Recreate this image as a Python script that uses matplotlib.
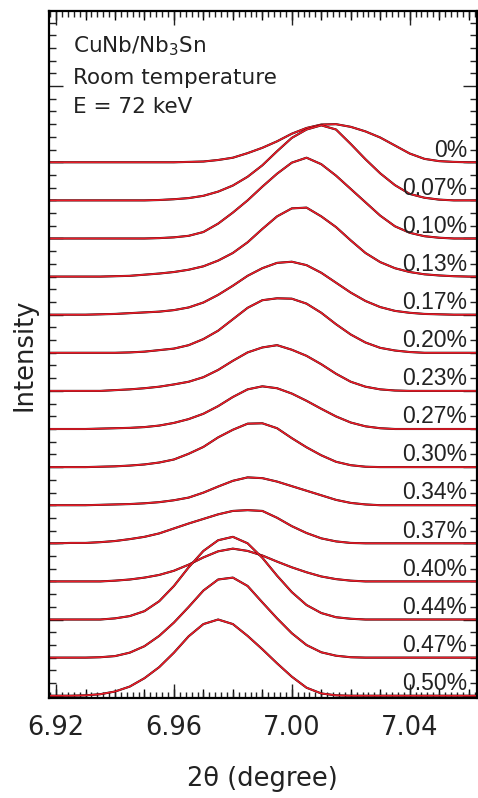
import matplotlib
matplotlib.use("Agg")
import matplotlib.pyplot as plt
from matplotlib.ticker import MultipleLocator, FixedLocator, FormatStrFormatter

# 2theta sampling (degree)
two_theta = [6.915, 6.920, 6.925, 6.930, 6.935, 6.940, 6.945, 6.950, 6.955, 6.960,
             6.965, 6.970, 6.975, 6.980, 6.985, 6.990, 6.995, 7.000, 7.005, 7.010,
             7.015, 7.020, 7.025, 7.030, 7.035, 7.040, 7.045, 7.050, 7.055, 7.060,
             7.065]

strain_labels = ['0%', '0.07%', '0.10%', '0.13%', '0.17%', '0.20%', '0.23%', '0.27%',
                 '0.30%', '0.34%', '0.37%', '0.40%', '0.44%', '0.47%', '0.50%']

# normalised intensity of each profile
i_000 = [0, 0, 0, 0, 0, 0, 0, 0, 0, 0, 0.01, 0.02, 0.06, 0.12, 0.24, 0.38, 0.55, 0.75,
         0.90, 0.99, 1.00, 0.93, 0.81, 0.65, 0.44, 0.23, 0.09, 0.03, 0.01, 0, 0]
i_007 = [0, 0, 0, 0, 0, 0, 0, 0, 0.01, 0.03, 0.06, 0.12, 0.23, 0.39, 0.62, 0.92, 1.29,
         1.64, 1.86, 1.97, 1.86, 1.48, 1.08, 0.71, 0.40, 0.17, 0.07, 0.02, 0, 0, 0]
i_010 = [0, 0, 0, 0, 0, 0, 0, 0, 0.01, 0.03, 0.07, 0.17, 0.39, 0.68, 1.00, 1.36, 1.70,
         1.99, 2.12, 1.95, 1.65, 1.30, 0.95, 0.60, 0.32, 0.15, 0.06, 0.02, 0, 0, 0]
i_013 = [0, 0, 0, 0, 0, 0.01, 0.02, 0.05, 0.08, 0.12, 0.18, 0.27, 0.42, 0.62, 0.90, 1.25,
         1.58, 1.79, 1.81, 1.58, 1.30, 0.95, 0.62, 0.38, 0.22, 0.12, 0.06, 0.03, 0.01, 0, 0]
i_017 = [0, 0, 0, 0, 0.01, 0.02, 0.04, 0.06, 0.08, 0.12, 0.19, 0.32, 0.52, 0.76, 1.02, 1.22,
         1.36, 1.39, 1.30, 1.10, 0.84, 0.58, 0.36, 0.20, 0.10, 0.05, 0.02, 0.01, 0, 0, 0]
i_020 = [0, 0, 0, 0, 0, 0, 0.01, 0.03, 0.07, 0.11, 0.20, 0.36, 0.58, 0.88, 1.18, 1.38,
         1.43, 1.42, 1.29, 1.05, 0.75, 0.48, 0.27, 0.13, 0.06, 0.02, 0, 0, 0, 0, 0]
i_023 = [0, 0, 0, 0, 0, 0.02, 0.04, 0.07, 0.11, 0.17, 0.24, 0.36, 0.55, 0.79, 1.01, 1.14,
         1.20, 1.08, 0.92, 0.70, 0.45, 0.24, 0.11, 0.04, 0.01, 0, 0, 0, 0, 0, 0]
i_027 = [0, 0, 0, 0, 0.01, 0.02, 0.03, 0.05, 0.09, 0.16, 0.26, 0.40, 0.60, 0.84, 1.04, 1.12,
         1.07, 0.93, 0.74, 0.53, 0.33, 0.17, 0.07, 0.02, 0, 0, 0, 0, 0, 0, 0]
i_030 = [0, 0, 0, 0, 0.01, 0.02, 0.04, 0.07, 0.12, 0.20, 0.35, 0.53, 0.78, 0.98, 1.14, 1.15,
         1.02, 0.76, 0.52, 0.31, 0.14, 0.05, 0.01, 0, 0, 0, 0, 0, 0, 0, 0]
i_034 = [0, 0, 0, 0, 0.01, 0.02, 0.03, 0.05, 0.08, 0.13, 0.20, 0.33, 0.49, 0.64, 0.73, 0.71,
         0.62, 0.50, 0.38, 0.26, 0.14, 0.06, 0.02, 0, 0, 0, 0, 0, 0, 0, 0]
i_037 = [0, 0, 0.01, 0.01, 0.03, 0.06, 0.11, 0.17, 0.26, 0.39, 0.52, 0.64, 0.76, 0.85, 0.87,
         0.85, 0.67, 0.45, 0.27, 0.13, 0.05, 0.01, 0, 0, 0, 0, 0, 0, 0, 0, 0]
i_040 = [0, 0, 0, 0, 0, 0.02, 0.05, 0.10, 0.17, 0.28, 0.44, 0.63, 0.79, 0.86, 0.80, 0.68,
         0.52, 0.37, 0.24, 0.13, 0.06, 0.02, 0, 0, 0, 0, 0, 0, 0, 0, 0]
i_044 = [0, 0, 0, 0, 0, 0.03, 0.09, 0.22, 0.48, 0.88, 1.37, 1.80, 2.08, 2.17, 2.00, 1.62,
         1.15, 0.72, 0.38, 0.17, 0.06, 0.02, 0, 0, 0, 0, 0, 0, 0, 0, 0]
i_047 = [0, 0, 0, 0, 0.01, 0.04, 0.13, 0.30, 0.57, 0.92, 1.33, 1.76, 2.05, 2.10, 1.88, 1.45,
         1.03, 0.64, 0.33, 0.14, 0.05, 0.01, 0, 0, 0, 0, 0, 0, 0, 0, 0]
i_050 = [0, 0, 0, 0.01, 0.04, 0.11, 0.24, 0.46, 0.75, 1.13, 1.56, 1.88, 2.00, 1.88, 1.57,
         1.22, 0.85, 0.50, 0.21, 0.06, 0.01, 0, 0, 0, 0, 0, 0, 0, 0, 0, 0]

profiles = [i_000, i_007, i_010, i_013, i_017, i_020, i_023, i_027, i_030, i_034,
            i_037, i_040, i_044, i_047, i_050]

fig = plt.figure(figsize=(4.78, 7.98), dpi=100)
ax = fig.add_axes([0.1025, 0.1253, 0.8945, 0.8609])

n = len(profiles)
for k, (lab, prof) in enumerate(zip(strain_labels, profiles)):
    off = n - 1 - k
    y = [off + v for v in prof]
    ax.plot(two_theta, y, color='black', lw=1.5)
    ax.plot(two_theta, y, color='#ea1c28', lw=1.2)
    ax.text(7.0595, off + 0.15, lab, ha='right', va='baseline',
            fontsize=16.5, family='Liberation Sans', color='#222222')

ax.set_xlim(6.9176, 7.0627)
ax.set_ylim(-0.06, 17.97)

# ticks
ax.xaxis.set_major_locator(FixedLocator([6.92, 6.96, 7.00, 7.04]))
ax.xaxis.set_major_formatter(FormatStrFormatter('%.2f'))
ax.xaxis.set_minor_locator(MultipleLocator(0.002))
ax.yaxis.set_major_locator(MultipleLocator(2))
ax.yaxis.set_minor_locator(MultipleLocator(1 / 3))
ax.tick_params(which='both', direction='in', top=True, right=True, width=1.0,
               labelleft=False, labelsize=18.5, pad=12, colors='#222222')
ax.tick_params(which='major', length=10)
ax.tick_params(axis='x', which='minor', length=4)
ax.tick_params(axis='y', which='minor', length=5)

# medium ticks every 0.01
for loc in ('bottom', 'top'):
    sec = ax.secondary_xaxis(loc)
    sec.xaxis.set_major_locator(MultipleLocator(0.01))
    sec.tick_params(direction='in', length=6.5, width=1.0,
                    labelbottom=False, labeltop=False)
    for sp in sec.spines.values():
        sp.set_visible(False)

for sp in ax.spines.values():
    sp.set_linewidth(1.6)

ax.set_xlabel('2θ (degree)', fontsize=18.5, labelpad=18, color='#222222')
ax.set_ylabel('Intensity', fontsize=18.5, labelpad=8, color='#222222')

ax.text(0.056, 0.9403, 'CuNb/Nb$_3$Sn', transform=ax.transAxes, fontsize=15.5,
        va='baseline', color='#222222')
ax.text(0.056, 0.8937, 'Room temperature', transform=ax.transAxes, fontsize=15.5,
        va='baseline', color='#222222')
ax.text(0.056, 0.8515, 'E = 72 keV', transform=ax.transAxes, fontsize=15.5,
        va='baseline', color='#222222')

fig.savefig('out.png', dpi=100)
